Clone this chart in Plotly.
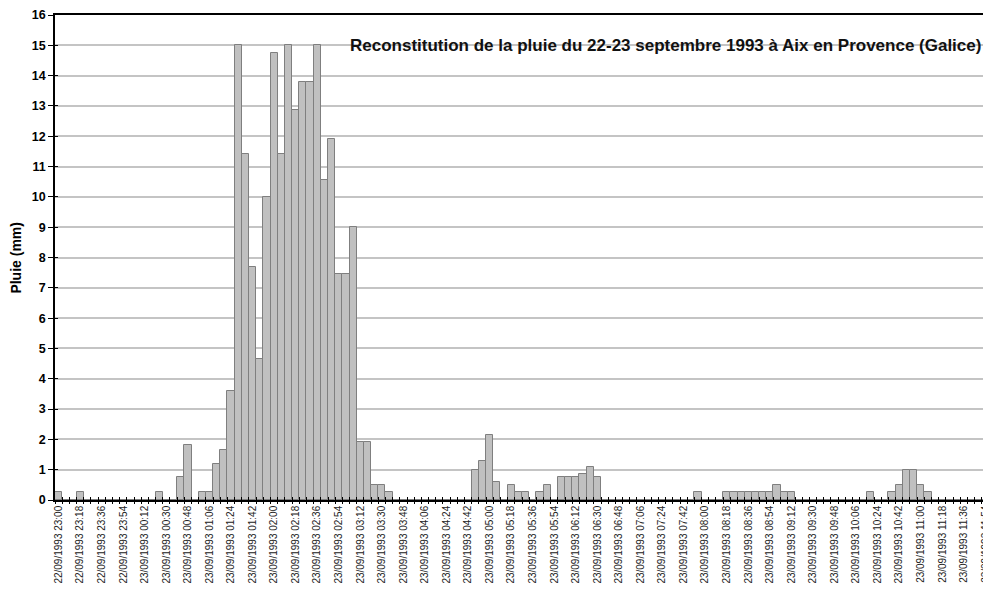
import plotly.graph_objects as go
import pandas as pd

# Categories: 6-minute steps from 22/09/1993 23:00 to 23/09/1993 11:54
categories = [t.strftime("%d/%m/%Y %H:%M") for t in
              pd.date_range("1993-09-22 23:00", "1993-09-23 11:54", freq="6min")]

# Rain per 6-minute step (mm)
pluie = [
    0.25, 0, 0, 0.25, 0, 0, 0, 0, 0, 0,
    0, 0, 0, 0, 0.25, 0, 0, 0.75, 1.8, 0,
    0.25, 0.25, 1.2, 1.65, 3.6, 15, 11.4, 7.7, 4.65, 10,
    14.75, 11.4, 15, 12.85, 13.8, 13.8, 15, 10.55, 11.9, 7.45,
    7.45, 9.0, 1.9, 1.9, 0.5, 0.5, 0.25, 0, 0, 0,
    0, 0, 0, 0, 0, 0, 0, 0, 1.0, 1.3,
    2.15, 0.6, 0, 0.5, 0.25, 0.25, 0, 0.25, 0.5, 0,
    0.75, 0.75, 0.75, 0.85, 1.1, 0.75, 0, 0, 0, 0,
    0, 0, 0, 0, 0, 0, 0, 0, 0, 0.25,
    0, 0, 0, 0.25, 0.25, 0.25, 0.25, 0.25, 0.25, 0.25,
    0.5, 0.25, 0.25, 0, 0, 0, 0, 0, 0, 0,
    0, 0, 0, 0.25, 0, 0, 0.25, 0.5, 1.0, 1.0,
    0.5, 0.25, 0, 0, 0, 0, 0, 0, 0, 0,
]

# Tick labels (every 18 minutes)
tick_labels = [
    "22/09/1993 23:00", "22/09/1993 23:18", "22/09/1993 23:36", "22/09/1993 23:54",
    "23/09/1993 00:12", "23/09/1993 00:30", "23/09/1993 00:48", "23/09/1993 01:06",
    "23/09/1993 01:24", "23/09/1993 01:42", "23/09/1993 02:00", "23/09/1993 02:18",
    "23/09/1993 02:36", "23/09/1993 02:54", "23/09/1993 03:12", "23/09/1993 03:30",
    "23/09/1993 03:48", "23/09/1993 04:06", "23/09/1993 04:24", "23/09/1993 04:42",
    "23/09/1993 05:00", "23/09/1993 05:18", "23/09/1993 05:36", "23/09/1993 05:54",
    "23/09/1993 06:12", "23/09/1993 06:30", "23/09/1993 06:48", "23/09/1993 07:06",
    "23/09/1993 07:24", "23/09/1993 07:42", "23/09/1993 08:00", "23/09/1993 08:18",
    "23/09/1993 08:36", "23/09/1993 08:54", "23/09/1993 09:12", "23/09/1993 09:30",
    "23/09/1993 09:48", "23/09/1993 10:06", "23/09/1993 10:24", "23/09/1993 10:42",
    "23/09/1993 11:00", "23/09/1993 11:18", "23/09/1993 11:36", "23/09/1993 11:54",
]

title_text = "Reconstitution de la pluie du 22-23 septembre 1993 à Aix en Provence (Galice)"
y_title = "Pluie (mm)"

n = len(categories)
boundaries = [i - 0.5 for i in range(n + 1)]
FONT = "Liberation Sans, Arial, sans-serif"

fig = go.Figure()
fig.add_trace(go.Bar(
    x=categories, y=pluie,
    marker=dict(color="#c0c0c0", line=dict(color="#7f7f7f", width=1)),
    hoverinfo="x+y", showlegend=False,
))
# invisible traces to carry the tick-mark axes
fig.add_trace(go.Scatter(x=[boundaries[0]], y=[0], xaxis="x2", yaxis="y2",
                         mode="markers", marker=dict(opacity=0), showlegend=False,
                         hoverinfo="skip"))
fig.add_trace(go.Scatter(x=[boundaries[0]], y=[0], xaxis="x3", yaxis="y",
                         mode="markers", marker=dict(opacity=0), showlegend=False,
                         hoverinfo="skip"))

# page body has an 8px default margin: figure sized to fit 991x601 window
fig.update_layout(
    width=983, height=593,
    paper_bgcolor="white", plot_bgcolor="white",
    margin=dict(l=47, r=0, t=5, b=101),
    bargap=0,
    font=dict(family=FONT, color="black"),
    xaxis=dict(
        type="category", range=[-0.5, n - 0.5],
        tickmode="array", tickvals=tick_labels, ticktext=tick_labels,
        tickangle=-90, tickfont=dict(size=10, family=FONT, color="#222"),
        ticks="", showgrid=False, ticklabeloverflow="allow",
        showline=True, linecolor="black", linewidth=1.5, mirror=True,
        fixedrange=True,
    ),
    xaxis2=dict(
        overlaying="x", anchor="y", range=[-0.5, n - 0.5],
        tickmode="array", tickvals=boundaries, showticklabels=False,
        ticks="outside", ticklen=3, tickwidth=1, tickcolor="black",
        showgrid=False, showline=False, zeroline=False,
    ),
    xaxis3=dict(
        overlaying="x", anchor="y", range=[-0.5, n - 0.5],
        tickmode="array", tickvals=boundaries, showticklabels=False,
        ticks="inside", ticklen=3, tickwidth=1, tickcolor="black",
        showgrid=False, showline=False, zeroline=False,
    ),
    yaxis=dict(
        range=[0, 16], dtick=1, tick0=0,
        showgrid=True, gridcolor="#c4c4c4", gridwidth=1.5,
        zeroline=False, ticklabeloverflow="allow",
        showline=True, linecolor="black", linewidth=1.5,
        ticks="outside", ticklen=5, tickwidth=1, tickcolor="black",
        tickfont=dict(size=12.5, family=FONT, color="black", weight="bold"),
        fixedrange=True,
    ),
    yaxis2=dict(
        overlaying="y", anchor="x2", range=[0, 16], dtick=1, tick0=0,
        showticklabels=False, ticks="inside", ticklen=3, tickwidth=1,
        tickcolor="black", showgrid=False, zeroline=False, showline=False,
    ),
    annotations=[
        dict(text="<b>" + title_text + "</b>", xref="paper", yref="y",
             x=0.9936, y=15, xanchor="right", yanchor="middle",
             showarrow=False, font=dict(size=17, family=FONT, color="#111")),
        dict(text="<b>" + y_title + "</b>", xref="paper", yref="paper",
             x=-0.0427, y=0.5, xanchor="center", yanchor="middle",
             textangle=-90, showarrow=False,
             font=dict(size=14, family=FONT, color="black")),
    ],
)

fig.write_html("out.html")
